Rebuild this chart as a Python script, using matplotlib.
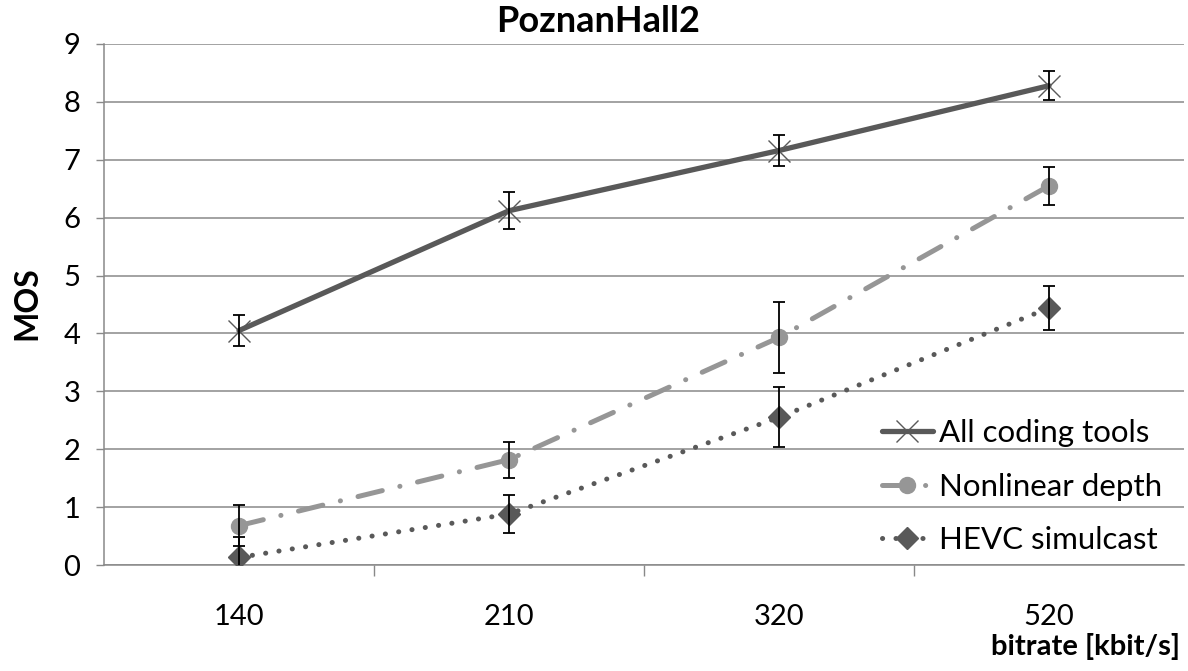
import matplotlib
matplotlib.use('Agg')
import matplotlib.pyplot as plt

plt.rcParams['font.family'] = ['Lato', 'DejaVu Sans']
plt.rcParams['lines.scale_dashes'] = False

# data
bitrates = ['140', '210', '320', '520']
all_tools = [4.05, 6.12, 7.16, 8.28]
all_tools_err = [0.26, 0.32, 0.26, 0.25]
nonlinear = [0.68, 1.82, 3.93, 6.55]
nonlinear_err = [0.36, 0.31, 0.62, 0.33]
hevc = [0.13, 0.88, 2.55, 4.44]
hevc_err = [0.35, 0.33, 0.52, 0.38]

dark = '#595959'
light = '#969696'
grid_col = '#898989'

fig = plt.figure(figsize=(11.88, 6.71), dpi=100)
ax = fig.add_axes([104 / 1188, 1 - 565 / 671, 1080 / 1188, 521 / 671])

x = list(range(len(bitrates)))

ax.plot(x, all_tools, color=dark, lw=3.8, marker='x', markersize=16,
        markeredgewidth=1.0, markeredgecolor=dark, label='All coding tools',
        solid_capstyle='round', zorder=3)
ax.plot(x, nonlinear, color=light, lw=3.6, linestyle=(0, (18, 13, 0.1, 13)),
        dash_capstyle='round', marker='o', markersize=11.5,
        markerfacecolor=light, markeredgecolor=light, label='Nonlinear depth',
        zorder=3)
ax.plot(x, hevc, color=dark, lw=3.6, linestyle=(0, (0.1, 9.6)),
        dash_capstyle='round', marker='D', markersize=11,
        markerfacecolor=dark, markeredgecolor=dark, label='HEVC simulcast',
        zorder=3)

for vals, errs in [(all_tools, all_tools_err), (nonlinear, nonlinear_err),
                   (hevc, hevc_err)]:
    ax.errorbar(x, vals, yerr=errs, fmt='none', ecolor='black',
                elinewidth=1.3, capsize=4, capthick=1.3, zorder=4)

ax.set_xlim(-0.5, 3.5)
ax.set_ylim(0, 9)
ax.set_yticks(range(0, 10))
ax.set_xticks(x)
ax.set_xticklabels(bitrates)
ax.set_xticks([0.5, 1.5, 2.5], minor=True)
ax.tick_params(axis='x', which='major', length=0, pad=28, labelsize=21)
ax.tick_params(axis='x', which='minor', length=8, color=grid_col, width=1)
ax.tick_params(axis='y', length=6, color=grid_col, width=1, pad=11,
               labelsize=21)

ax.grid(axis='y', color=grid_col, lw=1.1)
ax.set_axisbelow(True)
for side in ['top', 'right']:
    ax.spines[side].set_visible(False)
ax.spines['left'].set_color(grid_col)
ax.spines['bottom'].set_color(grid_col)
ax.spines['left'].set_linewidth(1.1)
ax.spines['bottom'].set_linewidth(1.1)

ax.legend(loc='lower left', bbox_to_anchor=(866 / 1188, 1 - 570 / 671),
          bbox_transform=fig.transFigure, frameon=False, fontsize=22.5,
          handlelength=1.65, handletextpad=0.2, labelspacing=0.82,
          borderpad=0)

fig.text(598 / 1188, 1 - 22 / 671, 'PoznanHall2', ha='center', va='center',
         fontsize=26, fontweight='bold')
fig.text(27 / 1188, 1 - 303 / 671, 'MOS', ha='center', va='center',
         rotation=90, fontsize=23, fontweight='bold')
fig.text(1180 / 1188, 1 - 647 / 671, 'bitrate [kbit/s]', ha='right',
         va='center', fontsize=21, fontweight='bold')

fig.savefig('out.png', dpi=100)
